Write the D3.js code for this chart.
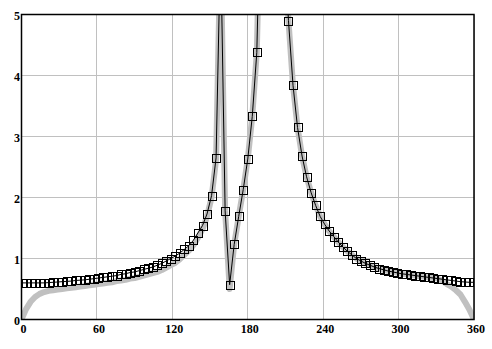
<!DOCTYPE html>
<html>
<head>
<meta charset="utf-8">
<script src="https://cdn.jsdelivr.net/npm/d3@7"></script>
<style>
body { margin: 0; background: #fff; }
</style>
</head>
<body>
<div id="chart"></div>
<script>
// sample angles (degrees)
const angles = [
    0, 3.6, 7.2, 10.8, 14.4, 18, 21.6, 25.2, 28.8, 32.4,
    36, 39.6, 43.2, 46.8, 50.4, 54, 57.6, 61.2, 64.8, 68.4,
    72, 75.6, 79.2, 82.8, 86.4, 90, 93.6, 97.2, 100.8, 104.4,
    108, 111.6, 115.2, 118.8, 122.4, 126, 129.6, 133.2, 136.8, 140.4,
    144, 147.6, 151.2, 154.8, 158.4, 162, 165.6, 169.2, 172.8, 176.4,
    180, 183.6, 187.2, 190.8, 194.4, 198, 201.6, 205.2, 208.8, 212.4,
    216, 219.6, 223.2, 226.8, 230.4, 234, 237.6, 241.2, 244.8, 248.4,
    252, 255.6, 259.2, 262.8, 266.4, 270, 273.6, 277.2, 280.8, 284.4,
    288, 291.6, 295.2, 298.8, 302.4, 306, 309.6, 313.2, 316.8, 320.4,
    324, 327.6, 331.2, 334.8, 338.4, 342, 345.6, 349.2, 352.8, 356.4,
    360
];

// black line with square markers
const markerValues = [
    0.60, 0.60, 0.60, 0.60, 0.60, 0.60, 0.605, 0.61, 0.615, 0.62,
    0.625, 0.63, 0.64, 0.645, 0.65, 0.66, 0.67, 0.68, 0.69, 0.70,
    0.71, 0.72, 0.74, 0.75, 0.77, 0.78, 0.80, 0.82, 0.84, 0.86,
    0.89, 0.92, 0.96, 1.00, 1.04, 1.09, 1.15, 1.21, 1.30, 1.42,
    1.54, 1.73, 2.03, 2.65, 6.2, 1.78, 0.57, 1.23, 1.69, 2.13,
    2.63, 3.33, 4.38, 7.5, 12, 20, 14, 9, 6.3, 4.90,
    3.84, 3.15, 2.68, 2.34, 2.08, 1.87, 1.69, 1.56, 1.45, 1.36,
    1.27, 1.19, 1.12, 1.06, 1.00, 0.96, 0.92, 0.89, 0.86, 0.835,
    0.815, 0.795, 0.78, 0.765, 0.75, 0.74, 0.73, 0.72, 0.71, 0.70,
    0.69, 0.68, 0.67, 0.66, 0.65, 0.64, 0.63, 0.62, 0.615, 0.61,
    0.61
];

// thick light grey curve
const curveValues = [
    0.00, 0.17, 0.29, 0.37, 0.42, 0.45, 0.47, 0.48, 0.49, 0.50,
    0.51, 0.52, 0.53, 0.54, 0.55, 0.56, 0.57, 0.58, 0.59, 0.60,
    0.61, 0.63, 0.64, 0.65, 0.67, 0.68, 0.70, 0.72, 0.74, 0.76,
    0.78, 0.81, 0.85, 0.89, 0.93, 0.99, 1.06, 1.13, 1.22, 1.34,
    1.48, 1.69, 2.00, 2.62, 6.2, 1.78, 0.50, 1.23, 1.69, 2.13,
    2.63, 3.33, 4.38, 7.5, 12, 20, 14, 9, 6.3, 4.90,
    3.84, 3.15, 2.68, 2.34, 2.08, 1.87, 1.69, 1.56, 1.45, 1.36,
    1.27, 1.19, 1.12, 1.06, 1.00, 0.96, 0.92, 0.89, 0.86, 0.835,
    0.815, 0.795, 0.78, 0.765, 0.75, 0.74, 0.73, 0.72, 0.71, 0.70,
    0.69, 0.68, 0.67, 0.63, 0.58, 0.54, 0.48, 0.41, 0.29, 0.16,
    0.00
];

const xTicks = [0, 60, 120, 180, 240, 300, 360];
const yTicks = [0, 1, 2, 3, 4, 5];

const width = 492;
const height = 349;
const margin = { top: 14.5, right: 18, bottom: 29.5, left: 21.5 };

const svg = d3.select("#chart")
    .append("svg")
    .attr("width", width)
    .attr("height", height);

const x = d3.scaleLinear()
    .domain([0, 360])
    .range([margin.left, width - margin.right]);

const y = d3.scaleLinear()
    .domain([0, 5])
    .range([height - margin.bottom, margin.top]);

svg.append("clipPath")
    .attr("id", "plot-clip")
    .append("rect")
    .attr("x", x(0))
    .attr("y", y(5))
    .attr("width", x(360) - x(0))
    .attr("height", y(0) - y(5));

// grid
svg.append("g")
    .selectAll("line")
    .data(xTicks)
    .enter().append("line")
    .attr("x1", d => x(d))
    .attr("x2", d => x(d))
    .attr("y1", y(0))
    .attr("y2", y(5))
    .style("stroke", "#c0c0c0")
    .style("stroke-width", 1)
    .style("shape-rendering", "crispEdges");

svg.append("g")
    .selectAll("line")
    .data(yTicks)
    .enter().append("line")
    .attr("x1", x(0))
    .attr("x2", x(360))
    .attr("y1", d => y(d))
    .attr("y2", d => y(d))
    .style("stroke", "#c0c0c0")
    .style("stroke-width", 1)
    .style("shape-rendering", "crispEdges");

const plot = svg.append("g").attr("clip-path", "url(#plot-clip)");

const curveLine = d3.line()
    .x((d, i) => x(angles[i]))
    .y(d => y(d));

plot.append("path")
    .datum(curveValues)
    .attr("d", curveLine)
    .style("fill", "none")
    .style("stroke", "#c0c0c0")
    .style("stroke-width", 6)
    .style("stroke-linejoin", "round");

plot.append("path")
    .datum(markerValues)
    .attr("d", curveLine)
    .style("fill", "none")
    .style("stroke", "#000")
    .style("stroke-width", 1);

plot.selectAll(".marker")
    .data(markerValues)
    .enter().append("rect")
    .attr("class", "marker")
    .attr("x", (d, i) => Math.round(x(angles[i]) - 4) + 0.5)
    .attr("y", d => Math.round(y(d) - 4) + 0.5)
    .attr("width", 8)
    .attr("height", 8)
    .style("fill", "none")
    .style("stroke", "#000")
    .style("stroke-width", 1)
    .style("shape-rendering", "crispEdges");

// frame
svg.append("rect")
    .attr("x", x(0))
    .attr("y", y(5))
    .attr("width", x(360) - x(0))
    .attr("height", y(0) - y(5))
    .style("fill", "none")
    .style("stroke", "#000")
    .style("stroke-width", 1.5);

// tick labels
svg.append("g")
    .selectAll("text")
    .data(xTicks)
    .enter().append("text")
    .attr("x", d => x(d) + 2)
    .attr("y", y(0) + 13)
    .attr("text-anchor", "middle")
    .style("font-family", "'Liberation Serif', serif")
    .style("font-weight", "bold")
    .style("font-size", "12px")
    .text(d => d);

svg.append("g")
    .selectAll("text")
    .data(yTicks)
    .enter().append("text")
    .attr("x", 20)
    .attr("y", d => y(d) + 5)
    .attr("text-anchor", "end")
    .style("font-family", "'Liberation Serif', serif")
    .style("font-weight", "bold")
    .style("font-size", "12px")
    .text(d => d);
</script>
</body>
</html>
